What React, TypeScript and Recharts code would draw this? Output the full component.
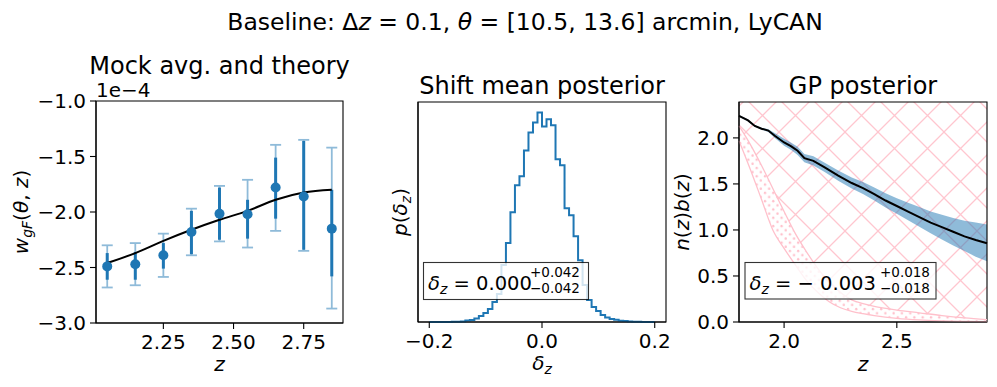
import React from 'react';
import { ComposedChart, Line, Scatter, ErrorBar, Area, XAxis, YAxis, ReferenceArea } from 'recharts';

const FONT = '"DejaVu Sans", sans-serif';
const BLUE = '#1f77b4';
const BLUE_LIGHT = '#8fbbd9';
const PINK = '#ffc0cb';
const HATCH = '#ffc6cf';

// panel 1: mock average (units of 1e-4) with two error bar sets, plus theory
const MOCK_Z = [2.05, 2.15, 2.25, 2.35, 2.45, 2.55, 2.65, 2.75, 2.85];
const MOCK_W = [-2.49, -2.47, -2.39, -2.18, -2.015, -2.02, -1.78, -1.86, -2.15];
const MOCK_OUTER_LO = [-2.68, -2.66, -2.585, -2.39, -2.265, -2.32, -2.17, -2.35, -2.87];
const MOCK_OUTER_HI = [-2.3, -2.28, -2.195, -1.97, -1.765, -1.71, -1.395, -1.35, -1.42];
const MOCK_INNER_LO = [-2.61, -2.61, -2.51, -2.38, -2.25, -2.24, -2.06, -2.34, -2.58];
const MOCK_INNER_HI = [-2.37, -2.36, -2.28, -1.99, -1.78, -1.89, -1.51, -1.36, -1.8];
const THEORY_Z = [2.05, 2.15, 2.25, 2.35, 2.45, 2.55, 2.65, 2.75, 2.85];
const THEORY_W = [-2.46, -2.37, -2.26, -2.16, -2.07, -1.99, -1.89, -1.825, -1.8];

// panel 2: posterior of the shift mean, 50 bins on [-0.2, 0.2]
const HIST_LO = -0.2;
const HIST_BIN = 0.008;
const HIST_DENS = [
  0, 0, 0, 0, 0.005, 0.01, 0.015, 0.02, 0.07, 0.09,
  0.16, 0.27, 0.41, 0.59, 0.9, 1.26, 2.57, 3.56, 4.95, 6.17,
  6.57, 7.74, 8.55, 9.0, 9.45, 8.82, 9.14, 8.87, 7.34, 7.07,
  5.13, 4.82, 3.87, 2.79, 1.67, 0.99, 0.68, 0.5, 0.32, 0.2,
  0.14, 0.1, 0.06, 0.04, 0.02, 0.015, 0.01, 0.005, 0, 0,
];

// panel 3: GP posterior of n(z)b(z) and prior regions
const NZ_Z = [1.8, 1.84, 1.87, 1.9, 1.93, 1.96, 2.0, 2.03, 2.06, 2.09, 2.13, 2.18, 2.24, 2.3, 2.35, 2.4, 2.45, 2.5, 2.55, 2.6, 2.65, 2.7, 2.75, 2.8, 2.85, 2.9];
const NZ_MEAN = [2.24, 2.19, 2.13, 2.1, 2.08, 2.02, 1.95, 1.91, 1.86, 1.78, 1.75, 1.68, 1.59, 1.51, 1.455, 1.39, 1.32, 1.26, 1.2, 1.14, 1.08, 1.03, 0.98, 0.93, 0.89, 0.855];
const NZ_HIGH = [2.25, 2.2, 2.14, 2.11, 2.095, 2.05, 1.99, 1.95, 1.905, 1.825, 1.8, 1.73, 1.645, 1.57, 1.52, 1.46, 1.4, 1.345, 1.295, 1.25, 1.2, 1.165, 1.13, 1.1, 1.08, 1.06];
const NZ_LOW = [2.23, 2.18, 2.12, 2.09, 2.065, 1.995, 1.915, 1.87, 1.815, 1.735, 1.7, 1.63, 1.535, 1.45, 1.39, 1.32, 1.245, 1.175, 1.105, 1.035, 0.965, 0.895, 0.83, 0.77, 0.71, 0.66];
const PRIOR_Z = [1.8, 1.85, 1.9, 1.95, 2.0, 2.05, 2.1, 2.15, 2.2, 2.25, 2.3, 2.35, 2.4, 2.5, 2.6, 2.7, 2.8, 2.9];
const PRIOR_UP = [2.13, 1.93, 1.7, 1.45, 1.2, 0.96, 0.76, 0.58, 0.43, 0.32, 0.24, 0.2, 0.17, 0.13, 0.1, 0.07, 0.045, 0.025];
const PRIOR_LO = [1.97, 1.66, 1.33, 1.0, 0.8, 0.62, 0.45, 0.32, 0.22, 0.155, 0.115, 0.09, 0.07, 0.04, 0.022, 0.012, 0.006, 0.003];
const NZ_YMAX = 2.39;

const mockRows = MOCK_Z.map((z, i) => ({
  z,
  w: MOCK_W[i],
  outer: [MOCK_W[i] - MOCK_OUTER_LO[i], MOCK_OUTER_HI[i] - MOCK_W[i]],
  inner: [MOCK_W[i] - MOCK_INNER_LO[i], MOCK_INNER_HI[i] - MOCK_W[i]],
}));
const theoryRows = THEORY_Z.map((z, i) => ({ z, w: THEORY_W[i] }));

const histRows = [
  { z: HIST_LO, p: 0 },
  ...HIST_DENS.map((p, i) => ({ z: HIST_LO + i * HIST_BIN, p })),
  { z: HIST_LO + HIST_DENS.length * HIST_BIN, p: HIST_DENS[HIST_DENS.length - 1] },
  { z: HIST_LO + HIST_DENS.length * HIST_BIN, p: 0 },
];
const histMax = Math.max(...HIST_DENS) * 1.05;

const nzRows = NZ_Z.map((z, i) => ({ z, mean: NZ_MEAN[i], band: [NZ_LOW[i], NZ_HIGH[i]] }));
const priorRows = PRIOR_Z.map((z, i) => ({ z, up: PRIOR_UP[i], lo: PRIOR_LO[i], top: NZ_YMAX }));

const fmt = (d: number) => (v: number) => v.toFixed(d).replace('-', '\u2212');
const tickStyle = { fontSize: 20, fill: '#000', fontFamily: FONT };
const spine = { stroke: '#000', strokeWidth: 1.1 };

// the four-sided axes box, drawn over the series
const frame = (x: number[], y: number[]) => (
  <ReferenceArea x1={x[0]} x2={x[1]} y1={y[0]} y2={y[1]} fill="none" fillOpacity={0} stroke="#000" strokeWidth={1.1} ifOverflow="visible" />
);

const it = (s: string) => <tspan fontStyle="italic">{s}</tspan>;
const sub = (s: string) => <tspan fontStyle="italic" fontSize={14} dy={4}>{s}</tspan>;

export default function App() {
  return (
    <div style={{ position: 'absolute', left: 0, top: 0, width: 997, height: 387, background: '#fff', fontFamily: FONT }}>
      <svg width={0} height={0} style={{ position: 'absolute' }}>
        <defs>
          <pattern id="hatchX" patternUnits="userSpaceOnUse" width={33} height={33}>
            <path d="M0,0 L33,33 M0,33 L33,0" stroke={HATCH} strokeWidth={1.3} />
          </pattern>
          <pattern id="hatchDot" patternUnits="userSpaceOnUse" width={8.3} height={8.3}>
            <circle cx={2} cy={2} r={1.2} fill={PINK} />
            <circle cx={6.15} cy={6.15} r={1.2} fill={PINK} />
          </pattern>
        </defs>
      </svg>

      <div style={{ position: 'absolute', left: 0, top: 0 }}>
        <ComposedChart width={363} height={387} margin={{ top: 101, right: 20, bottom: 24, left: 0 }}>
          <XAxis type="number" dataKey="z" domain={[2.01, 2.89]} ticks={[2.25, 2.5, 2.75]} tickFormatter={fmt(2)}
            tick={tickStyle} tickSize={6} tickMargin={6} axisLine={spine} tickLine={spine} height={40} />
          <YAxis type="number" domain={[-3, -1]} ticks={[-3, -2.5, -2, -1.5, -1]} tickFormatter={fmt(1)}
            tick={tickStyle} tickSize={6} tickMargin={4} axisLine={spine} tickLine={spine} width={96} />
          <Scatter data={mockRows} dataKey="w" isAnimationActive={false}
            shape={(p: any) => <circle cx={p.cx} cy={p.cy} r={5} fill={BLUE} />}>
            <ErrorBar dataKey="outer" direction="y" width={5.5} stroke={BLUE_LIGHT} strokeWidth={1.8} isAnimationActive={false} />
            <ErrorBar dataKey="inner" direction="y" width={0} stroke={BLUE} strokeWidth={3} isAnimationActive={false} />
          </Scatter>
          <Line data={theoryRows} dataKey="w" type="monotone" stroke="#000" strokeWidth={2} dot={false} isAnimationActive={false} />
          {frame([2.01, 2.89], [-3, -1])}
        </ComposedChart>
      </div>

      <div style={{ position: 'absolute', left: 370, top: 0 }}>
        <ComposedChart width={316} height={387} margin={{ top: 102, right: 20, bottom: 25, left: 0 }}>
          <XAxis type="number" dataKey="z" domain={[-0.22, 0.22]} ticks={[-0.2, 0, 0.2]} tickFormatter={fmt(1)}
            tick={tickStyle} tickSize={6} tickMargin={6} axisLine={spine} tickLine={spine} height={40} />
          <YAxis type="number" domain={[0, histMax]} tick={false} tickLine={false} axisLine={spine} width={48} />
          <Line data={histRows} dataKey="p" type="stepAfter" stroke={BLUE} strokeWidth={2} dot={false} isAnimationActive={false} />
          {frame([-0.22, 0.22], [0, histMax])}
        </ComposedChart>
      </div>

      <div style={{ position: 'absolute', left: 680, top: 0 }}>
        <ComposedChart width={317} height={387} margin={{ top: 102, right: 10, bottom: 25, left: 0 }}>
          <XAxis type="number" dataKey="z" domain={[1.8, 2.9]} ticks={[2.0, 2.5]} tickFormatter={fmt(1)}
            tick={tickStyle} tickSize={6} tickMargin={6} axisLine={spine} tickLine={spine} height={40} />
          <YAxis type="number" domain={[0, NZ_YMAX]} ticks={[0, 0.5, 1, 1.5, 2]} tickFormatter={fmt(1)}
            tick={tickStyle} tickSize={6} tickMargin={4} axisLine={spine} tickLine={spine} width={59} />
          <Area data={priorRows} dataKey={(r: any) => [r.up, r.top]} type="monotone" fill="url(#hatchX)" fillOpacity={1} stroke="none" isAnimationActive={false} />
          <Area data={priorRows} dataKey={(r: any) => [r.lo, r.up]} type="monotone" fill="url(#hatchDot)" fillOpacity={1} stroke="none" isAnimationActive={false} />
          <Line data={priorRows} dataKey="up" type="monotone" stroke={PINK} strokeWidth={1.3} dot={false} isAnimationActive={false} />
          <Line data={priorRows} dataKey="lo" type="monotone" stroke={PINK} strokeWidth={1.3} dot={false} isAnimationActive={false} />
          <Area data={nzRows} dataKey="band" type="linear" fill={BLUE} fillOpacity={0.5} stroke="none" isAnimationActive={false} />
          <Line data={nzRows} dataKey="mean" type="linear" stroke="#000" strokeWidth={2} dot={false} isAnimationActive={false} />
          {frame([1.8, 2.9], [0, NZ_YMAX])}
        </ComposedChart>
      </div>

      <svg width={997} height={387} style={{ position: 'absolute', left: 0, top: 0, pointerEvents: 'none' }} fontFamily={FONT} fill="#000">
        <text x={525} y={30} fontSize={23.5} textAnchor="middle">
          {'Baseline: \u0394'}{it('z')}{' = 0.1, '}{it('\u03b8')}{' = [10.5, 13.6] arcmin, LyCAN'}
        </text>
        <text x={219.5} y={74} fontSize={24} textAnchor="middle">Mock avg. and theory</text>
        <text x={542} y={94} fontSize={24} textAnchor="middle">Shift mean posterior</text>
        <text x={863} y={94} fontSize={24} textAnchor="middle">GP posterior</text>
        <text x={96} y={97} fontSize={20}>{'1e\u22124'}</text>

        <text x={219.5} y={371} fontSize={20} textAnchor="middle" fontStyle="italic">z</text>
        <text x={542} y={370} fontSize={20} textAnchor="middle">
          {it('\u03b4')}{sub('z')}
        </text>
        <text x={863} y={371} fontSize={20} textAnchor="middle" fontStyle="italic">z</text>

        <text transform="translate(28,212) rotate(-90)" fontSize={20} textAnchor="middle">
          {it('w')}{sub('gF')}<tspan dy={-4}>(</tspan>{it('\u03b8')}{', '}{it('z')}{')'}
        </text>
        <text transform="translate(407,212) rotate(-90)" fontSize={20} textAnchor="middle">
          {it('p')}{'('}{it('\u03b4')}{sub('z')}<tspan dy={-4}>)</tspan>
        </text>
        <text transform="translate(689,212) rotate(-90)" fontSize={20} textAnchor="middle">
          {it('n')}{'('}{it('z')}{')'}{it('b')}{'('}{it('z')}{')'}
        </text>

        <rect x={423.5} y={262.5} width={165} height={37} fill="#fff" fillOpacity={0.8} stroke="#000" strokeOpacity={0.8} strokeWidth={1.1} />
        <text x={428} y={290} fontSize={19.5}>
          {it('\u03b4')}{sub('z')}<tspan dy={-4}>{' = 0.000'}</tspan>
        </text>
        <text x={530} y={277} fontSize={13.5}>+0.042</text>
        <text x={530} y={292.5} fontSize={13.5}>{'\u22120.042'}</text>

        <rect x={745} y={262.5} width={191} height={36.5} fill="#fff" fillOpacity={0.8} stroke="#000" strokeOpacity={0.8} strokeWidth={1.1} />
        <text x={749.5} y={290} fontSize={19.5}>
          {it('\u03b4')}{sub('z')}<tspan dy={-4}>{' = \u2212 0.003'}</tspan>
        </text>
        <text x={880} y={277} fontSize={13.5}>+0.018</text>
        <text x={880} y={292.5} fontSize={13.5}>{'\u22120.018'}</text>
      </svg>
    </div>
  );
}
